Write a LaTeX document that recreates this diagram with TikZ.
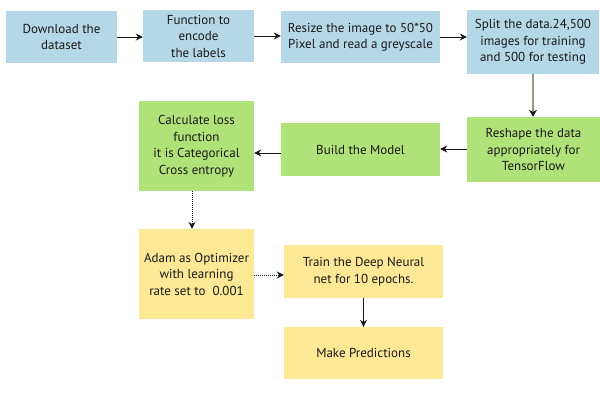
\documentclass[tikz,border=0pt]{standalone}
\usepackage{fontspec}
\setmainfont{PT Sans}
\usetikzlibrary{arrows.meta}
\definecolor{cblue}{HTML}{B4D8E7}
\definecolor{cgreen}{HTML}{B0E27A}
\definecolor{cyellow}{HTML}{FCE895}
\definecolor{cline}{HTML}{8D9D80}
\tikzset{
  box/.style={draw=none,inner sep=0pt,align=center,font=\fontsize{13}{16.5}\selectfont,text=black!90},
  conn/.style={-{Stealth[length=7pt,width=7pt]},line width=1pt,black!90},
  dconn/.style={conn,densely dotted},
}
\newcommand{\bx}[7]{% name, x1, y1, x2, y2, colour, text
  \fill[#6] (#2,#3) rectangle (#4,#5);
  \node[box,minimum width=#4pt-#2pt,minimum height=#5pt-#3pt] (#1) at ({(#2+#4)/2},{(#3+#5)/2}) {#7};
}
\begin{document}
\begin{tikzpicture}[x=1pt,y=-1pt]
\useasboundingbox (0,0) rectangle (600,400);
\bx{b1}{6}{11}{117}{63}{cblue}{Download the\\dataset}
\bx{b2}{143}{10}{254}{62}{cblue}{Function to\\encode\\the labels}
\bx{b3}{281}{11}{440}{63}{cblue}{Resize the image to 50*50\\Pixel and read a greyscale}
\bx{b4}{467}{10}{599}{74}{cblue}{Split the data.24,500\\images for training\\and 500 for testing}
\bx{b5}{467}{117}{600}{182}{cgreen}{Reshape the data\\appropriately for\\TensorFlow}
\bx{b6}{281}{123}{440}{176}{cgreen}{Build the Model}
\bx{b7}{139}{101}{254}{191}{cgreen}{Calculate loss\\function\\it is Categorical\\Cross entropy}
\bx{b8}{139}{229}{254}{319}{cyellow}{Adam as Optimizer\\with learning\\rate set to~~0.001}
\bx{b9}{284}{245}{443}{298}{cyellow}{Train the Deep Neural\\net for 10 epochs.}
\bx{b10}{284}{327}{443}{379}{cyellow}{Make Predictions}
\draw[conn] (b1.east|-0,37) -- (b2.west|-0,37);
\draw[conn] (b2.east|-0,36) -- (b3.west|-0,36);
\draw[conn] (b3.east|-0,37) -- (b4.west|-0,37);
\draw[conn,draw=cline,line width=1.8pt,-{Stealth[length=7pt,width=8pt,color=black!90,fill=black!90,line width=0.5pt]}] (533,0|-b4.south) -- (533,0|-b5.north);
\draw[conn] (b5.west|-0,149) -- (b6.east|-0,149);
\draw[conn] (b6.west|-0,153) -- (b7.east|-0,153);
\draw[dconn] (192,0|-b7.south) -- (192,0|-b8.north);
\draw[dconn] (b8.east|-0,275) -- (b9.west|-0,275);
\draw[conn] (b9) -- (b10);
\end{tikzpicture}
\end{document}
